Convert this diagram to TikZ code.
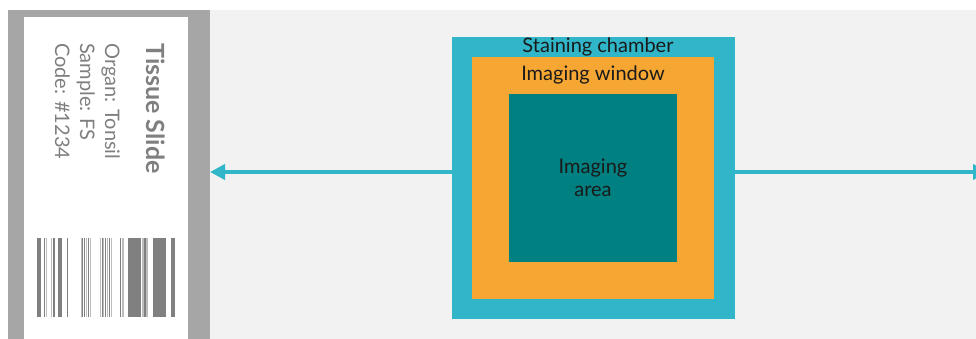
\documentclass[tikz,border=0pt]{standalone}
\usepackage{fontspec}
\setmainfont{Lato}
\usetikzlibrary{arrows.meta}
\definecolor{panel}{HTML}{F2F2F2}
\definecolor{frame}{HTML}{A6A6A6}
\definecolor{chambercol}{HTML}{31B6C9}
\definecolor{windowcol}{HTML}{F6A733}
\definecolor{areacol}{HTML}{008080}
\definecolor{ink}{HTML}{7F7F7F}
\definecolor{bardark}{HTML}{808080}
\definecolor{barlight}{HTML}{BDBDBD}
\definecolor{labelink}{HTML}{1A1A1A}

\begin{document}
\begin{tikzpicture}[x=1pt,y=-1pt,
  box/.style={draw=none, inner sep=0pt, outer sep=0pt, anchor=north west},
  boxlabel/.style={inner sep=0pt, text=labelink, font=\fontsize{20}{23}\selectfont},
  slidetext/.style={inner sep=0pt, rotate=-90, anchor=base west, text=ink,
                    font=\fontsize{20}{23}\selectfont},
  conn/.style={chambercol, line width=4.5pt, -{Triangle[length=15pt,width=15pt]}}]
\useasboundingbox (0,0) rectangle (976,339);
\clip (0,0) rectangle (976,339);

% light panel behind the chamber
\fill[panel] (210,10) rectangle (976,339);

% slide: grey frame and white label area
\node[box, fill=frame, minimum width=202pt, minimum height=329pt] (slide) at (8,10) {};
\node[box, fill=white, minimum width=164pt, minimum height=322pt] (label) at (24,17) {};

% slide text, written along the slide
\node[slidetext, font=\bfseries\fontsize{25}{28}\selectfont] (title) at (146,43) {Tissue Slide};
\node[slidetext] (organ) at (105,43) {Organ: Tonsil};
\node[slidetext] (sample) at (80,43) {Sample: FS};
\node[slidetext] (code) at (55,43) {Code: \#1234};

% barcode
\foreach \x/\w/\c in {
  37/4/bardark, 43.5/1.3/bardark, 46/1.2/barlight, 50.5/1.3/barlight, 53.3/1.4/bardark,
  58.3/4/bardark, 66.8/1.1/bardark,
  80.5/1/barlight, 82/1.1/bardark, 84/1/bardark, 86/1/barlight, 87.7/1.1/bardark, 89.6/1.1/barlight,
  100/1/barlight, 101.5/1.1/bardark, 103.3/1/barlight, 105/1.1/bardark, 107/1/barlight,
  108.6/1.5/bardark, 111/1/barlight,
  119.5/1.8/bardark, 122/2/barlight,
  128.3/12.2/bardark, 142/1.5/barlight, 144.2/1.3/bardark, 146/1.5/barlight,
  153.3/12.7/bardark, 171.2/4/bardark}
  \fill[\c] (\x,238) rectangle ++(\w,79);

% staining chamber with nested windows
\node[box, fill=chambercol, minimum width=283pt, minimum height=282pt] (chamber) at (452,37) {};
\node[box, fill=windowcol, minimum width=242pt, minimum height=242pt] (window) at (472,57) {};
\node[box, fill=areacol, minimum width=168pt, minimum height=168pt] (area) at (509,94) {};

\node[boxlabel] (chamberlabel) at (598,47) {Staining chamber};
\node[boxlabel] (windowlabel) at (593,75) {Imaging window};
\node[boxlabel, align=center, font=\fontsize{20}{23}\selectfont] (arealabel) at (593,178) {Imaging\\area};

% connectors
\coordinate (leftout) at ([yshift=6pt]chamber.west);
\coordinate (rightout) at ([yshift=6pt]chamber.east);
\coordinate (rightend) at (988,172);
\draw[conn] (leftout) -- (leftout -| slide.east);
\draw[conn] (rightout) -- (rightend);
\end{tikzpicture}
\end{document}
